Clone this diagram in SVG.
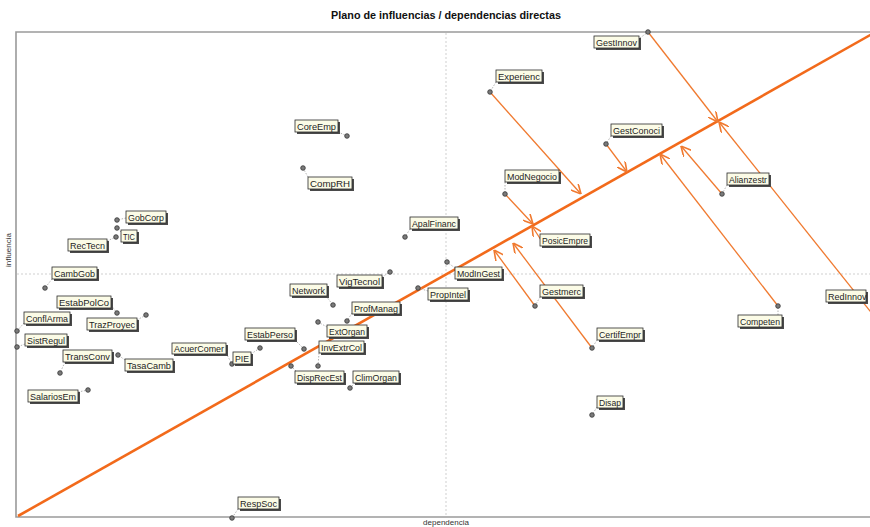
<svg xmlns="http://www.w3.org/2000/svg" width="870" height="527" viewBox="0 0 870 527">
<style>
.frame{stroke:#9a9a9a;stroke-width:1.6;fill:none}
.axis{stroke:#cfcfcf;stroke-width:1;stroke-dasharray:2 2;fill:none}
.diag{stroke:#f26a1b;stroke-width:2.6;fill:none}
.arr{stroke:#f07a30;stroke-width:1.3;fill:none;marker-end:url(#ah)}
.shadow{fill:#4a4a4a}
.box{fill:#fbfbe6;stroke:#2b2b2b;stroke-width:0.8}
.lbl{font-family:"Liberation Sans",Arial,sans-serif;font-size:9px;fill:#1e1e1e}
.pt{fill:#7a7a7a;stroke:#333;stroke-width:0.8}
.lead{stroke:#aaa;stroke-width:0.9;stroke-dasharray:1.5 1.5;fill:none}
.title{font-family:"Liberation Sans",Arial,sans-serif;font-size:10.8px;font-weight:bold;fill:#111}
.ax{font-family:"Liberation Sans",Arial,sans-serif;font-size:8px;fill:#333}
</style>
<defs>
<marker id="ah" viewBox="0 0 10 10" refX="10" refY="5" markerWidth="10" markerHeight="10" markerUnits="userSpaceOnUse" orient="auto">
<path d="M0,0 L10,5 L0,10" fill="none" stroke="#f07a30" stroke-width="1.6"/>
</marker>
</defs>
<rect x="0" y="0" width="870" height="527" fill="#ffffff"/>
<text class="title" x="446" y="19" text-anchor="middle">Plano de influencias / dependencias directas</text>
<g id="axes">
<line class="axis" x1="446" y1="33" x2="446" y2="516"/>
<line class="axis" x1="17" y1="274" x2="870" y2="274"/>
<path class="frame" d="M870,32 H16 V517 H870"/>
<text class="ax" x="0" y="0" transform="translate(11,250) rotate(-90)" text-anchor="middle">influencia</text>
<text class="ax" x="446" y="525" text-anchor="middle">dependencia</text>
</g>
<g id="connectors">
<line class="diag" x1="18" y1="516" x2="872" y2="34"/>
<line class="arr" x1="648" y1="32" x2="718" y2="122"/>
<line class="arr" x1="490" y1="92" x2="581" y2="194"/>
<line class="arr" x1="606" y1="144" x2="627" y2="172"/>
<line class="arr" x1="505" y1="194" x2="533" y2="224"/>
<line class="arr" x1="541" y1="240" x2="532" y2="226"/>
<line class="arr" x1="722" y1="194" x2="681" y2="146"/>
<line class="arr" x1="778" y1="306" x2="660" y2="154"/>
<line class="arr" x1="874" y1="316" x2="719" y2="122"/>
<line class="arr" x1="535" y1="306" x2="494" y2="250"/>
<line class="arr" x1="592" y1="348" x2="513" y2="243"/>
</g>
<g id="GestInnov"><line class="lead" x1="640" y1="38" x2="648" y2="32"/><rect class="shadow" x="596" y="38" width="45" height="12"/><rect class="box" x="594" y="36" width="45" height="12"/><text class="lbl" x="596" y="45.5" textLength="41" lengthAdjust="spacingAndGlyphs">GestInnov</text><circle class="pt" cx="648" cy="32" r="2.3"/></g>
<g id="Experienc"><line class="lead" x1="496" y1="82" x2="490" y2="92"/><rect class="shadow" x="498" y="72" width="46" height="12"/><rect class="box" x="496" y="70" width="46" height="12"/><text class="lbl" x="498" y="79.5" textLength="42" lengthAdjust="spacingAndGlyphs">Experienc</text><circle class="pt" cx="490" cy="92" r="2.3"/></g>
<g id="CoreEmp"><line class="lead" x1="338" y1="132" x2="347" y2="136"/><rect class="shadow" x="297" y="122" width="43" height="12"/><rect class="box" x="295" y="120" width="43" height="12"/><text class="lbl" x="297" y="129.5" textLength="39" lengthAdjust="spacingAndGlyphs">CoreEmp</text><circle class="pt" cx="347" cy="136" r="2.3"/></g>
<g id="GestConoci"><line class="lead" x1="611" y1="136" x2="606" y2="144"/><rect class="shadow" x="613" y="126" width="51" height="12"/><rect class="box" x="611" y="124" width="51" height="12"/><text class="lbl" x="613" y="133.5" textLength="47" lengthAdjust="spacingAndGlyphs">GestConoci</text><circle class="pt" cx="606" cy="144" r="2.3"/></g>
<g id="CompRH"><line class="lead" x1="308" y1="177" x2="303" y2="168"/><rect class="shadow" x="310" y="179" width="44" height="12"/><rect class="box" x="308" y="177" width="44" height="12"/><text class="lbl" x="310" y="186.5" textLength="40" lengthAdjust="spacingAndGlyphs">CompRH</text><circle class="pt" cx="303" cy="168" r="2.3"/></g>
<g id="ModNegocio"><line class="lead" x1="505" y1="182" x2="505" y2="194"/><rect class="shadow" x="507" y="172" width="54" height="12"/><rect class="box" x="505" y="170" width="54" height="12"/><text class="lbl" x="507" y="179.5" textLength="50" lengthAdjust="spacingAndGlyphs">ModNegocio</text><circle class="pt" cx="505" cy="194" r="2.3"/></g>
<g id="Alianzestr"><line class="lead" x1="727" y1="185" x2="722" y2="194"/><rect class="shadow" x="729" y="175" width="42" height="12"/><rect class="box" x="727" y="173" width="42" height="12"/><text class="lbl" x="729" y="182.5" textLength="38" lengthAdjust="spacingAndGlyphs">Alianzestr</text><circle class="pt" cx="722" cy="194" r="2.3"/></g>
<g id="GobCorp"><line class="lead" x1="126" y1="218" x2="117" y2="220"/><rect class="shadow" x="128" y="213" width="40" height="12"/><rect class="box" x="126" y="211" width="40" height="12"/><text class="lbl" x="128" y="220.5" textLength="36" lengthAdjust="spacingAndGlyphs">GobCorp</text><circle class="pt" cx="117" cy="220" r="2.3"/></g>
<g id="TIC"><line class="lead" x1="121" y1="232" x2="117" y2="228"/><rect class="shadow" x="123" y="232" width="16" height="12"/><rect class="box" x="121" y="230" width="16" height="12"/><text class="lbl" x="123" y="239.5" textLength="12" lengthAdjust="spacingAndGlyphs">TIC</text><circle class="pt" cx="117" cy="228" r="2.3"/></g>
<g id="RecTecn"><line class="lead" x1="107" y1="241" x2="116" y2="237"/><rect class="shadow" x="70" y="241" width="39" height="12"/><rect class="box" x="68" y="239" width="39" height="12"/><text class="lbl" x="70" y="248.5" textLength="35" lengthAdjust="spacingAndGlyphs">RecTecn</text><circle class="pt" cx="116" cy="237" r="2.3"/></g>
<g id="ApalFinanc"><line class="lead" x1="410" y1="229" x2="405" y2="237"/><rect class="shadow" x="412" y="219" width="48" height="12"/><rect class="box" x="410" y="217" width="48" height="12"/><text class="lbl" x="412" y="226.5" textLength="44" lengthAdjust="spacingAndGlyphs">ApalFinanc</text><circle class="pt" cx="405" cy="237" r="2.3"/></g>
<g id="PosicEmpre"><rect class="shadow" x="542" y="236" width="50" height="12"/><rect class="box" x="540" y="234" width="50" height="12"/><text class="lbl" x="542" y="243.5" textLength="46" lengthAdjust="spacingAndGlyphs">PosicEmpre</text></g>
<g id="ModInGest"><line class="lead" x1="455" y1="268" x2="447" y2="262"/><rect class="shadow" x="457" y="269" width="47" height="12"/><rect class="box" x="455" y="267" width="47" height="12"/><text class="lbl" x="457" y="276.5" textLength="43" lengthAdjust="spacingAndGlyphs">ModInGest</text><circle class="pt" cx="447" cy="262" r="2.3"/></g>
<g id="VigTecnol"><line class="lead" x1="382" y1="277" x2="390" y2="272"/><rect class="shadow" x="339" y="277" width="45" height="12"/><rect class="box" x="337" y="275" width="45" height="12"/><text class="lbl" x="339" y="284.5" textLength="41" lengthAdjust="spacingAndGlyphs">VigTecnol</text><circle class="pt" cx="390" cy="272" r="2.3"/></g>
<g id="CambGob"><line class="lead" x1="52" y1="279" x2="45" y2="288"/><rect class="shadow" x="54" y="269" width="45" height="12"/><rect class="box" x="52" y="267" width="45" height="12"/><text class="lbl" x="54" y="276.5" textLength="41" lengthAdjust="spacingAndGlyphs">CambGob</text><circle class="pt" cx="45" cy="288" r="2.3"/></g>
<g id="Network"><line class="lead" x1="326" y1="296" x2="333" y2="305"/><rect class="shadow" x="292" y="286" width="37" height="12"/><rect class="box" x="290" y="284" width="37" height="12"/><text class="lbl" x="292" y="293.5" textLength="33" lengthAdjust="spacingAndGlyphs">Network</text><circle class="pt" cx="333" cy="305" r="2.3"/></g>
<g id="PropIntel"><line class="lead" x1="428" y1="291" x2="418" y2="288"/><rect class="shadow" x="430" y="290" width="40" height="12"/><rect class="box" x="428" y="288" width="40" height="12"/><text class="lbl" x="430" y="297.5" textLength="36" lengthAdjust="spacingAndGlyphs">PropIntel</text><circle class="pt" cx="418" cy="288" r="2.3"/></g>
<g id="Gestmerc"><line class="lead" x1="540" y1="297" x2="535" y2="306"/><rect class="shadow" x="542" y="287" width="43" height="12"/><rect class="box" x="540" y="285" width="43" height="12"/><text class="lbl" x="542" y="294.5" textLength="39" lengthAdjust="spacingAndGlyphs">Gestmerc</text><circle class="pt" cx="535" cy="306" r="2.3"/></g>
<g id="RedInnov"><rect class="shadow" x="828" y="292" width="40" height="12"/><rect class="box" x="826" y="290" width="40" height="12"/><text class="lbl" x="828" y="299.5">RedInnov</text></g>
<g id="EstabPolCo"><line class="lead" x1="111" y1="305" x2="117" y2="313"/><rect class="shadow" x="59" y="298" width="54" height="12"/><rect class="box" x="57" y="296" width="54" height="12"/><text class="lbl" x="59" y="305.5" textLength="50" lengthAdjust="spacingAndGlyphs">EstabPolCo</text><circle class="pt" cx="117" cy="313" r="2.3"/></g>
<g id="ProfManag"><line class="lead" x1="352" y1="313" x2="347" y2="321"/><rect class="shadow" x="354" y="304" width="48" height="12"/><rect class="box" x="352" y="302" width="48" height="12"/><text class="lbl" x="354" y="311.5" textLength="44" lengthAdjust="spacingAndGlyphs">ProfManag</text><circle class="pt" cx="347" cy="321" r="2.3"/></g>
<g id="TrazProyec"><line class="lead" x1="137" y1="320" x2="146" y2="315"/><rect class="shadow" x="89" y="320" width="50" height="12"/><rect class="box" x="87" y="318" width="50" height="12"/><text class="lbl" x="89" y="327.5" textLength="46" lengthAdjust="spacingAndGlyphs">TrazProyec</text><circle class="pt" cx="146" cy="315" r="2.3"/></g>
<g id="ConflArma"><line class="lead" x1="24" y1="323" x2="17" y2="331"/><rect class="shadow" x="26" y="314" width="46" height="12"/><rect class="box" x="24" y="312" width="46" height="12"/><text class="lbl" x="26" y="321.5" textLength="42" lengthAdjust="spacingAndGlyphs">ConflArma</text><circle class="pt" cx="17" cy="331" r="2.3"/></g>
<g id="Competen"><line class="lead" x1="778" y1="315" x2="778" y2="306"/><rect class="shadow" x="740" y="317" width="44" height="12"/><rect class="box" x="738" y="315" width="44" height="12"/><text class="lbl" x="740" y="324.5" textLength="40" lengthAdjust="spacingAndGlyphs">Competen</text><circle class="pt" cx="778" cy="306" r="2.3"/></g>
<g id="ExtOrgan"><line class="lead" x1="327" y1="327" x2="318" y2="322"/><rect class="shadow" x="329" y="327" width="40" height="12"/><rect class="box" x="327" y="325" width="40" height="12"/><text class="lbl" x="329" y="334.5" textLength="36" lengthAdjust="spacingAndGlyphs">ExtOrgan</text><circle class="pt" cx="318" cy="322" r="2.3"/></g>
<g id="CertifEmpr"><line class="lead" x1="597" y1="340" x2="592" y2="348"/><rect class="shadow" x="599" y="330" width="46" height="12"/><rect class="box" x="597" y="328" width="46" height="12"/><text class="lbl" x="599" y="337.5" textLength="42" lengthAdjust="spacingAndGlyphs">CertifEmpr</text><circle class="pt" cx="592" cy="348" r="2.3"/></g>
<g id="EstabPerso"><line class="lead" x1="295" y1="340" x2="304" y2="349"/><rect class="shadow" x="247" y="330" width="50" height="12"/><rect class="box" x="245" y="328" width="50" height="12"/><text class="lbl" x="247" y="337.5" textLength="46" lengthAdjust="spacingAndGlyphs">EstabPerso</text><circle class="pt" cx="304" cy="349" r="2.3"/></g>
<g id="SistRegul"><line class="lead" x1="25" y1="344" x2="17" y2="347"/><rect class="shadow" x="27" y="336" width="42" height="12"/><rect class="box" x="25" y="334" width="42" height="12"/><text class="lbl" x="27" y="343.5" textLength="38" lengthAdjust="spacingAndGlyphs">SistRegul</text><circle class="pt" cx="17" cy="347" r="2.3"/></g>
<g id="InvExtrCol"><line class="lead" x1="319" y1="353" x2="318" y2="366"/><rect class="shadow" x="321" y="343" width="45" height="12"/><rect class="box" x="319" y="341" width="45" height="12"/><text class="lbl" x="321" y="350.5" textLength="41" lengthAdjust="spacingAndGlyphs">InvExtrCol</text><circle class="pt" cx="318" cy="366" r="2.3"/></g>
<g id="AcuerComer"><line class="lead" x1="226" y1="353" x2="232" y2="364"/><rect class="shadow" x="174" y="345" width="54" height="11"/><rect class="box" x="172" y="343" width="54" height="11"/><text class="lbl" x="174" y="352" textLength="50" lengthAdjust="spacingAndGlyphs">AcuerComer</text><circle class="pt" cx="232" cy="364" r="2.3"/></g>
<g id="PIE"><line class="lead" x1="251" y1="354" x2="260" y2="348"/><rect class="shadow" x="235" y="354" width="18" height="12"/><rect class="box" x="233" y="352" width="18" height="12"/><text class="lbl" x="235" y="361.5" textLength="14" lengthAdjust="spacingAndGlyphs">PIE</text><circle class="pt" cx="260" cy="348" r="2.3"/></g>
<g id="TransConv"><line class="lead" x1="65" y1="362" x2="60" y2="373"/><rect class="shadow" x="65" y="352" width="49" height="12"/><rect class="box" x="63" y="350" width="49" height="12"/><text class="lbl" x="65" y="359.5" textLength="45" lengthAdjust="spacingAndGlyphs">TransConv</text><circle class="pt" cx="60" cy="373" r="2.3"/></g>
<g id="TasaCamb"><line class="lead" x1="125" y1="360" x2="118" y2="355"/><rect class="shadow" x="127" y="361" width="48" height="12"/><rect class="box" x="125" y="359" width="48" height="12"/><text class="lbl" x="127" y="368.5" textLength="44" lengthAdjust="spacingAndGlyphs">TasaCamb</text><circle class="pt" cx="118" cy="355" r="2.3"/></g>
<g id="DispRecEst"><line class="lead" x1="296" y1="371" x2="291" y2="366"/><rect class="shadow" x="297" y="373" width="49" height="12"/><rect class="box" x="295" y="371" width="49" height="12"/><text class="lbl" x="297" y="380.5" textLength="45" lengthAdjust="spacingAndGlyphs">DispRecEst</text><circle class="pt" cx="291" cy="366" r="2.3"/></g>
<g id="ClimOrgan"><line class="lead" x1="355" y1="383" x2="350" y2="388"/><rect class="shadow" x="355" y="373" width="46" height="12"/><rect class="box" x="353" y="371" width="46" height="12"/><text class="lbl" x="355" y="380.5" textLength="42" lengthAdjust="spacingAndGlyphs">ClimOrgan</text><circle class="pt" cx="350" cy="388" r="2.3"/></g>
<g id="SalariosEm"><line class="lead" x1="78" y1="392" x2="88" y2="390"/><rect class="shadow" x="30" y="392" width="50" height="12"/><rect class="box" x="28" y="390" width="50" height="12"/><text class="lbl" x="30" y="399.5" textLength="46" lengthAdjust="spacingAndGlyphs">SalariosEm</text><circle class="pt" cx="88" cy="390" r="2.3"/></g>
<g id="Disap"><line class="lead" x1="597" y1="407" x2="592" y2="415"/><rect class="shadow" x="599" y="398" width="26" height="12"/><rect class="box" x="597" y="396" width="26" height="12"/><text class="lbl" x="599" y="405.5" textLength="22" lengthAdjust="spacingAndGlyphs">Disap</text><circle class="pt" cx="592" cy="415" r="2.3"/></g>
<g id="RespSoc"><line class="lead" x1="238" y1="509" x2="232" y2="518"/><rect class="shadow" x="240" y="499" width="41" height="12"/><rect class="box" x="238" y="497" width="41" height="12"/><text class="lbl" x="240" y="506.5" textLength="37" lengthAdjust="spacingAndGlyphs">RespSoc</text><circle class="pt" cx="232" cy="518" r="2.3"/></g>
</svg>
